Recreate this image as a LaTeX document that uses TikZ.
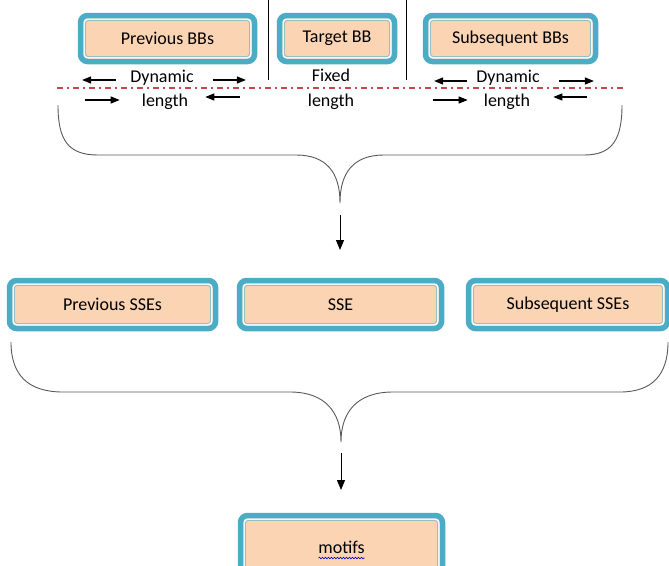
\documentclass[tikz,border=0pt]{standalone}
\usepackage{fontspec}
\setmainfont{Carlito}
\usetikzlibrary{arrows.meta}
\usetikzlibrary{decorations.pathmorphing}
\usetikzlibrary{positioning}

\definecolor{boxteal}{RGB}{75,172,198}
\definecolor{boxpeach}{RGB}{251,212,180}
\definecolor{boxrim}{RGB}{150,190,196}
\definecolor{cutred}{RGB}{196,72,72}

\begin{document}
\begin{tikzpicture}
        [ x=1pt, y=-1pt
        , font=\fontsize{18}{20}\selectfont
        , block/.style={draw=boxteal, line width=5.5pt, fill=boxpeach,
            rounded corners=7pt, inner sep=0pt, minimum height=46pt,
            path picture={
              \draw[white, line width=1.6pt, rounded corners=4pt]
                ([shift={(3.6pt,-3.6pt)}]path picture bounding box.north west)
                rectangle ([shift={(-3.6pt,3.6pt)}]path picture bounding box.south east);
              \draw[boxrim, line width=0.9pt, rounded corners=3pt]
                ([shift={(4.9pt,-4.9pt)}]path picture bounding box.north west)
                rectangle ([shift={(-4.9pt,4.9pt)}]path picture bounding box.south east);
            }}
        , lbl/.style={inner sep=0pt}
        , harrow/.style={-{Triangle[length=9pt,width=7pt]}, line width=1.2pt}
        , flow/.style={-{Triangle[length=10pt,width=8pt]}, line width=1pt}
        , brace/.style={draw=black!65, line width=0.9pt}
        , cut/.style={cutred, line width=1.6pt, dash pattern=on 6pt off 4pt on 2pt off 4pt}
        ]
        \useasboundingbox (0,0) rectangle (669,565);
        \clip (0,0) rectangle (669,565);

        % building blocks
        \node[block, minimum width=174pt] (prevbb) at (167.5,38.5) {Previous BBs};
        \node[block, minimum width=115pt] (targetbb) at (337,38.5) {Target BB};
        \node[block, minimum width=170pt] (nextbb) at (510.5,38.5) {Subsequent BBs};
        \draw[line width=0.8pt] (268,0) -- (268,80);
        \draw[line width=0.8pt] (406,0) -- (406,80);

        \node[lbl] (dyn1) at (162,78) {Dynamic};
        \node[lbl] (len1) at (165,101.5) {length};
        \node[lbl] (fix2) at (331,75) {Fixed};
        \node[lbl] (len2) at (331,101.5) {length};
        \node[lbl] (dyn3) at (508,78) {Dynamic};
        \node[lbl] (len3) at (507,101.5) {length};

        \draw[harrow] ([xshift=-14pt,yshift=-2pt]dyn1.west) -- ++(-34,0);
        \draw[harrow] ([xshift=19pt,yshift=-2pt]dyn1.east) -- ++(33,0);
        \draw[harrow] ([xshift=-57pt,yshift=1.5pt]len1.west) -- ++(35,0);
        \draw[harrow] ([xshift=52pt,yshift=4.5pt]len1.east) -- ++(-35,0);
        \draw[harrow] ([xshift=-9pt,yshift=-3pt]dyn3.west) -- ++(-33,0);
        \draw[harrow] ([xshift=19pt,yshift=-3pt]dyn3.east) -- ++(35,0);
        \draw[harrow] ([xshift=-51pt,yshift=1.5pt]len3.west) -- ++(35,0);
        \draw[harrow] ([xshift=57pt,yshift=4.5pt]len3.east) -- ++(-34,0);

        \draw[cut] (57,88) -- (623,88);

        % first brace
        \coordinate (tip1) at (340,203);
        \coordinate (in1) at (340,250);
        \draw[brace] (58,105) .. controls (58,140) and (68,155) .. (98,155)
            -- (296,155) .. controls (326,155) and (340,172) .. (tip1)
            .. controls (340,172) and (354,155) .. (384,155)
            -- (584,155) .. controls (612,155) and (622,140) .. (622,105);
        \draw[flow] ([yshift=-12pt]tip1) -- (in1);

        % secondary structure elements
        \node[block, minimum width=206pt, minimum height=48pt] (prevsse) at (112.5,304.5) {Previous SSEs};
        \node[block, minimum width=202pt, minimum height=48pt] (sse) at (340.5,304.5) {SSE};
        \node[block, minimum width=199pt, minimum height=48pt] (nextsse) at (568,304.5) {Subsequent SSEs};

        % second brace
        \coordinate (tip2) at (341,442);
        \coordinate (in2) at (341,490);
        \draw[brace] (11,342) .. controls (11,375) and (28,392) .. (63,392)
            -- (290,392) .. controls (325,392) and (341,412) .. (tip2)
            .. controls (341,412) and (357,392) .. (393,392)
            -- (620,392) .. controls (652,392) and (668,375) .. (668,342);
        \draw[flow] ([yshift=-11pt]tip2) -- (in2);

        \node[block, minimum width=202pt, minimum height=63pt] (motifs) at (341.5,547) {motifs};
        \draw[blue!80!black, line width=0.6pt, decorate,
            decoration={snake, amplitude=0.8pt, segment length=3pt}]
            ([xshift=-23pt,yshift=-11pt]motifs.center) -- ++(46,0);
\end{tikzpicture}
\end{document}
